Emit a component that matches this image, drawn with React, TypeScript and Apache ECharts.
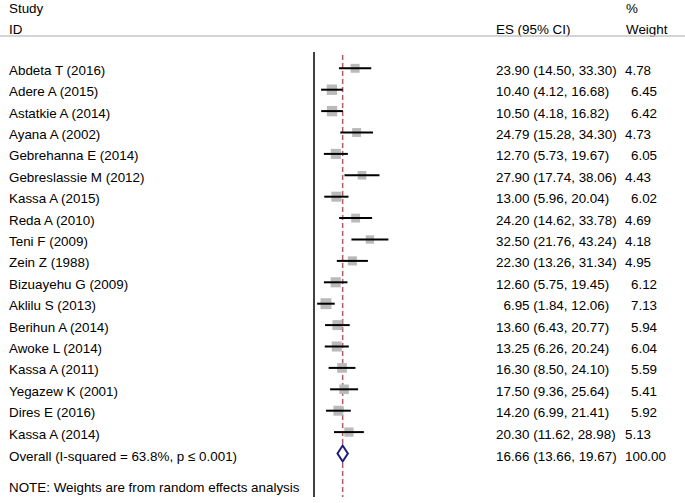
import React, { useEffect, useRef } from "react";
import * as echarts from "echarts";

const studies = [
  "Abdeta T (2016)", "Adere A (2015)", "Astatkie A (2014)", "Ayana A (2002)",
  "Gebrehanna E (2014)", "Gebreslassie M (2012)", "Kassa A (2015)", "Reda A (2010)",
  "Teni F (2009)", "Zein Z (1988)", "Bizuayehu G (2009)", "Aklilu S (2013)",
  "Berihun A (2014)", "Awoke L (2014)", "Kassa A (2011)", "Yegazew K (2001)",
  "Dires E (2016)", "Kassa A (2014)",
];
const effects = [23.90, 10.40, 10.50, 24.79, 12.70, 27.90, 13.00, 24.20, 32.50, 22.30, 12.60, 6.95, 13.60, 13.25, 16.30, 17.50, 14.20, 20.30];
const lower = [14.50, 4.12, 4.18, 15.28, 5.73, 17.74, 5.96, 14.62, 21.76, 13.26, 5.75, 1.84, 6.43, 6.26, 8.50, 9.36, 6.99, 11.62];
const upper = [33.30, 16.68, 16.82, 34.30, 19.67, 38.06, 20.04, 33.78, 43.24, 31.34, 19.45, 12.06, 20.77, 20.24, 24.10, 25.64, 21.41, 28.98];
const weights = [4.78, 6.45, 6.42, 4.73, 6.05, 4.43, 6.02, 4.69, 4.18, 4.95, 6.12, 7.13, 5.94, 6.04, 5.59, 5.41, 5.92, 5.13];

const overallLabel = "Overall (I-squared = 63.8%, p \u2264 0.001)";
const overallES = 16.66;
const overallLower = 13.66;
const overallUpper = 19.67;
const overallWeight = "100.00";
const noteText = "NOTE: Weights are from random effects analysis";

const FONT = "Liberation Sans, Arial, sans-serif";
const FS = 13.4;

export default function App() {
  const ref = useRef<HTMLDivElement>(null);
  useEffect(() => {
    document.body.style.margin = "0";
    if (!ref.current) return;
    const chart = echarts.init(ref.current, undefined, { renderer: "svg" });
    const n = studies.length;
    const overallRow = n;
    const noteRow = n + 1.6;

    const txt = (text: string, x: number, y: number) => ({
      type: "text",
      x,
      y,
      style: { text, fill: "#000", fontSize: FS, fontFamily: FONT, align: "left", verticalAlign: "middle" },
    });

    const rows = studies.map((s, i) => ({
      label: s,
      es: effects[i].toFixed(2) + " (" + lower[i].toFixed(2) + ", " + upper[i].toFixed(2) + ")",
      w: weights[i].toFixed(2),
      esVal: effects[i],
      lci: lower[i],
      row: i,
      dy: 2,
    }));
    rows.push({
      label: overallLabel,
      es: overallES.toFixed(2) + " (" + overallLower.toFixed(2) + ", " + overallUpper.toFixed(2) + ")",
      w: overallWeight,
      esVal: overallES,
      lci: overallLower,
      row: overallRow,
      dy: 3,
    });

    const option: any = {
      animation: false,
      grid: { left: 314, width: 172, top: 46.9, height: 449.4 },
      xAxis: { type: "value", min: 0, max: 100, show: false },
      yAxis: { type: "value", min: -1, max: 20, inverse: true, show: false },
      graphic: [
        txt("Study", 9, 8),
        txt("ID", 9, 29),
        txt("ES (95% CI)", 496, 29),
        txt("%", 626, 8),
        txt("Weight", 626, 29),
        { type: "line", shape: { x1: 0, y1: 36, x2: 685, y2: 36 }, style: { stroke: "#c4c4c4", lineWidth: 1.5 } },
      ],
      series: [
        {
          type: "line",
          data: [[0, -0.76], [0, 20.03]],
          symbol: "none",
          lineStyle: { color: "#000", width: 1.5 },
          z: 1,
        },
        {
          type: "line",
          data: [[overallES, -0.62], [overallES, 20.03]],
          symbol: "none",
          lineStyle: { color: "#b35a68", width: 1.5, type: [5, 3] },
          z: 1,
        },
        {
          type: "custom",
          clip: false,
          z: 3,
          data: studies.map((_, i) => [effects[i], i, lower[i], upper[i], weights[i]]),
          renderItem: (params: any, api: any) => {
            const c = api.coord([api.value(0), api.value(1)]);
            const l = api.coord([api.value(2), api.value(1)]);
            const u = api.coord([api.value(3), api.value(1)]);
            const h = 2.05 * Math.sqrt(api.value(4));
            return {
              type: "group",
              children: [
                { type: "rect", shape: { x: c[0] - h, y: c[1] - h, width: 2 * h, height: 2 * h }, style: { fill: "#bababa" } },
                { type: "line", shape: { x1: l[0], y1: c[1], x2: u[0], y2: c[1] }, style: { stroke: "#000", lineWidth: 2 } },
              ],
            };
          },
        },
        {
          type: "custom",
          clip: false,
          z: 4,
          data: [[overallES, overallRow, overallLower, overallUpper]],
          renderItem: (params: any, api: any) => {
            const c = api.coord([api.value(0), api.value(1)]);
            const l = api.coord([api.value(2), api.value(1)]);
            const u = api.coord([api.value(3), api.value(1)]);
            return {
              type: "polygon",
              shape: { points: [[l[0], c[1]], [c[0], c[1] - 8], [u[0], c[1]], [c[0], c[1] + 8]] },
              style: { fill: "#fff", stroke: "#1c1c7c", lineWidth: 2 },
            };
          },
        },
        {
          type: "custom",
          clip: false,
          z: 5,
          data: rows.map((r) => [0, r.row]),
          renderItem: (params: any, api: any) => {
            const r = rows[params.dataIndex];
            const y = api.coord([0, api.value(1)])[1] + r.dy;
            const esX = 496 + (r.esVal < 10 ? 7.5 : 0);
            const wX = 625 + (r.lci < 10 ? 6 : 0);
            return {
              type: "group",
              children: [txt(r.label, 9, y), txt(r.es, esX, y), txt(r.w, wX, y)],
            };
          },
        },
        {
          type: "custom",
          clip: false,
          z: 5,
          data: [[0, noteRow]],
          renderItem: (params: any, api: any) => {
            const y = api.coord([0, api.value(1)])[1];
            return txt(noteText, 9, y);
          },
        },
      ],
    };
    chart.setOption(option);
    return () => chart.dispose();
  }, []);
  return <div ref={ref} style={{ width: 685, height: 503 }} />;
}
